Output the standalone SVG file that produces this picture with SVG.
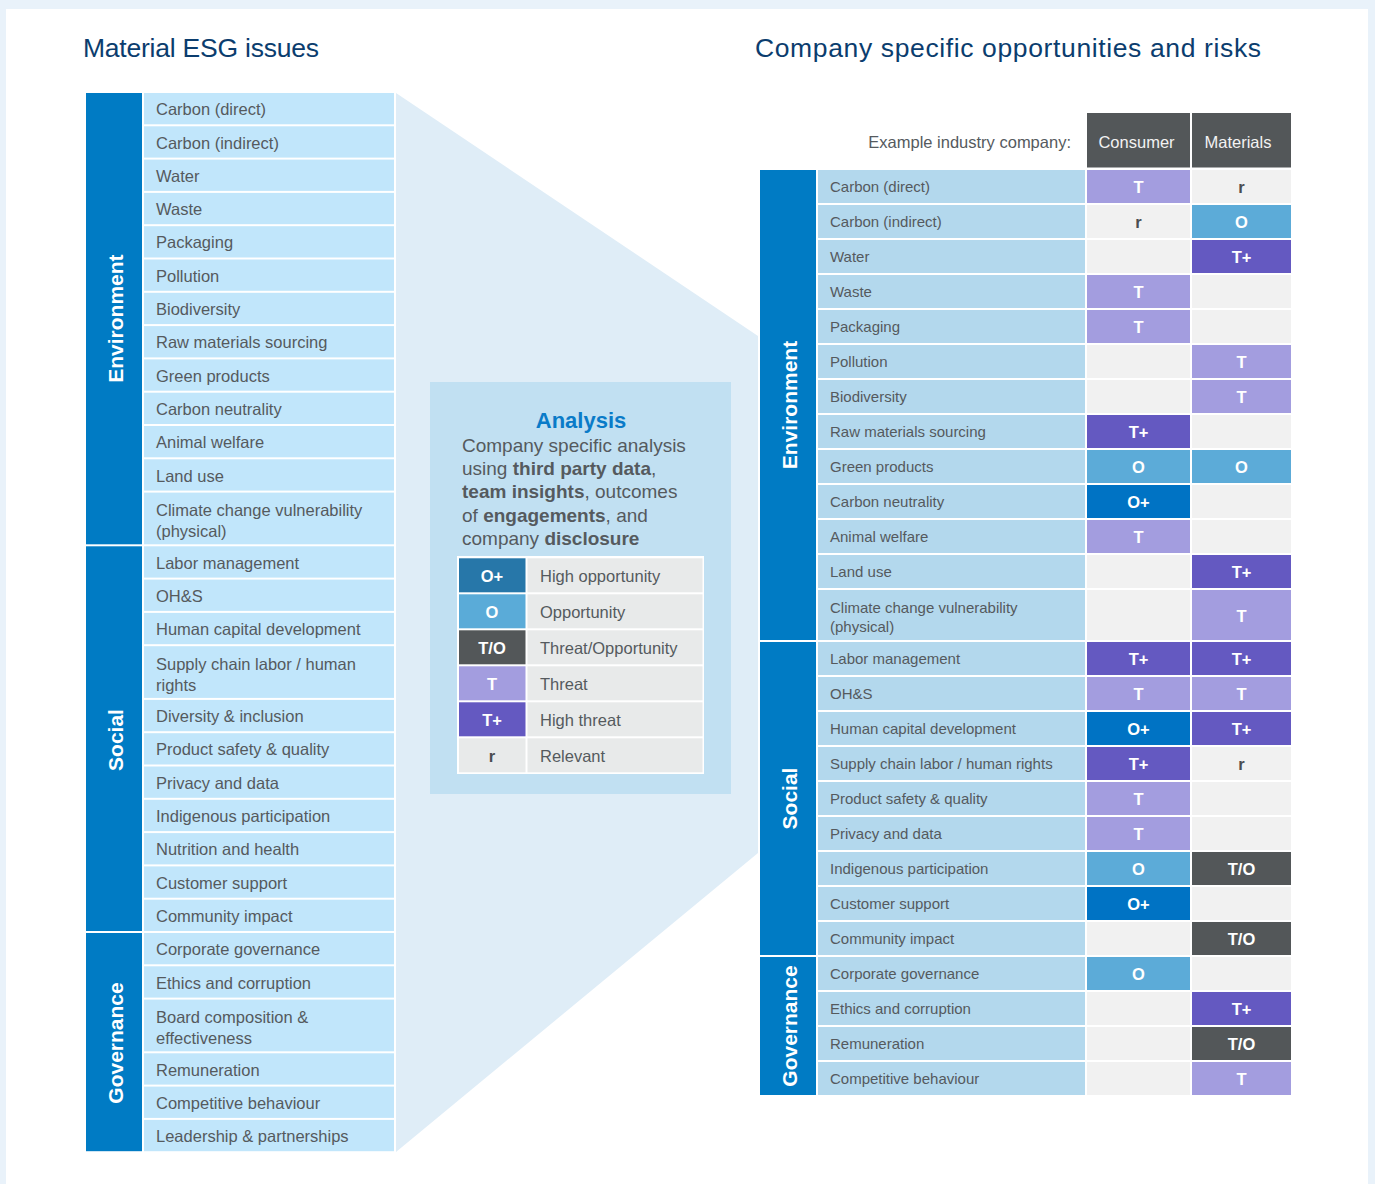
<svg xmlns="http://www.w3.org/2000/svg" width="1375" height="1184" viewBox="0 0 1375 1184">
<style>
text{font-family:"Liberation Sans",Arial,sans-serif}
.title{font-size:26.5px;fill:#0b3d6e}
.cat{fill:#007bc4}
.catl{font-weight:bold;font-size:21px;fill:#fff;text-anchor:middle}
.iL{fill:#c1e6fb}
.iR{fill:#b3d8ed}
.t{fill:#555a5e}
.l{font-size:16.5px}
.r{font-size:15px}
.e{fill:#f1f1f1}
.cT{fill:#a39ddf}.cTp{fill:#6459c1}.cO{fill:#5cabd8}.cOp{fill:#0073c4}.cTO{fill:#535759}
.code{font-weight:bold;font-size:16.5px;fill:#fff;text-anchor:middle}
.rr{font-weight:bold;font-size:16.5px;fill:#4a4d50;text-anchor:middle}
.hd{fill:#535759}
.hdt{font-size:16.5px;fill:#f2f2f2;text-anchor:middle}
.lg{fill:#e8eaea}
</style>
<rect width="1375" height="1184" fill="#e9f2fa"/>
<rect x="6" y="9" width="1362" height="1175" fill="#fff"/>

<g id="connectors">
<polygon points="396,93 758,336 758,853 396,1152" fill="#dfedf7"/>
</g>

<text class="title" x="83" y="57" textLength="236">Material ESG issues</text>
<text class="title" x="755" y="57" textLength="506">Company specific opportunities and risks</text>

<g id="left-table">
<g id="left-categories">
<rect class="cat" x="86" y="93" width="56" height="451.3"/>
<rect class="cat" x="86" y="546.3" width="56" height="384.7"/>
<rect class="cat" x="86" y="933" width="56" height="218.2"/>
<text class="catl" transform="translate(122.5,318.6) rotate(-90)">Environment</text>
<text class="catl" transform="translate(122.5,740) rotate(-90)">Social</text>
<text class="catl" transform="translate(122.5,1043) rotate(-90)">Governance</text>
</g>
<g id="left-items">
<rect class="iL" x="144" y="93" width="250" height="31.3"/><text class="t l" x="156" y="115.2">Carbon (direct)</text>
<rect class="iL" x="144" y="126.3" width="250" height="31.3"/><text class="t l" x="156" y="148.5">Carbon (indirect)</text>
<rect class="iL" x="144" y="159.6" width="250" height="31.3"/><text class="t l" x="156" y="181.8">Water</text>
<rect class="iL" x="144" y="192.9" width="250" height="31.3"/><text class="t l" x="156" y="215.1">Waste</text>
<rect class="iL" x="144" y="226.2" width="250" height="31.3"/><text class="t l" x="156" y="248.4">Packaging</text>
<rect class="iL" x="144" y="259.5" width="250" height="31.3"/><text class="t l" x="156" y="281.7">Pollution</text>
<rect class="iL" x="144" y="292.8" width="250" height="31.3"/><text class="t l" x="156" y="315">Biodiversity</text>
<rect class="iL" x="144" y="326.1" width="250" height="31.3"/><text class="t l" x="156" y="348.3">Raw materials sourcing</text>
<rect class="iL" x="144" y="359.4" width="250" height="31.3"/><text class="t l" x="156" y="381.6">Green products</text>
<rect class="iL" x="144" y="392.7" width="250" height="31.3"/><text class="t l" x="156" y="414.9">Carbon neutrality</text>
<rect class="iL" x="144" y="426" width="250" height="31.3"/><text class="t l" x="156" y="448.2">Animal welfare</text>
<rect class="iL" x="144" y="459.3" width="250" height="31.3"/><text class="t l" x="156" y="481.5">Land use</text>
<rect class="iL" x="144" y="492.6" width="250" height="51.7"/><text class="t l" x="156" y="516.2">Climate change vulnerability</text><text class="t l" x="156" y="537.2">(physical)</text>
<rect class="iL" x="144" y="546.3" width="250" height="31.3"/><text class="t l" x="156" y="568.5">Labor management</text>
<rect class="iL" x="144" y="579.6" width="250" height="31.3"/><text class="t l" x="156" y="601.8">OH&amp;S</text>
<rect class="iL" x="144" y="612.9" width="250" height="31.3"/><text class="t l" x="156" y="635.1">Human capital development</text>
<rect class="iL" x="144" y="646.2" width="250" height="51.7"/><text class="t l" x="156" y="669.8">Supply chain labor / human</text><text class="t l" x="156" y="690.8">rights</text>
<rect class="iL" x="144" y="699.9" width="250" height="31.3"/><text class="t l" x="156" y="722.1">Diversity &amp; inclusion</text>
<rect class="iL" x="144" y="733.2" width="250" height="31.3"/><text class="t l" x="156" y="755.4">Product safety &amp; quality</text>
<rect class="iL" x="144" y="766.5" width="250" height="31.3"/><text class="t l" x="156" y="788.7">Privacy and data</text>
<rect class="iL" x="144" y="799.8" width="250" height="31.3"/><text class="t l" x="156" y="822">Indigenous participation</text>
<rect class="iL" x="144" y="833.1" width="250" height="31.3"/><text class="t l" x="156" y="855.3">Nutrition and health</text>
<rect class="iL" x="144" y="866.4" width="250" height="31.3"/><text class="t l" x="156" y="888.6">Customer support</text>
<rect class="iL" x="144" y="899.7" width="250" height="31.3"/><text class="t l" x="156" y="921.9">Community impact</text>
<rect class="iL" x="144" y="933" width="250" height="31.3"/><text class="t l" x="156" y="955.2">Corporate governance</text>
<rect class="iL" x="144" y="966.3" width="250" height="31.3"/><text class="t l" x="156" y="988.5">Ethics and corruption</text>
<rect class="iL" x="144" y="999.6" width="250" height="51.7"/><text class="t l" x="156" y="1023.2">Board composition &amp;</text><text class="t l" x="156" y="1044.2">effectiveness</text>
<rect class="iL" x="144" y="1053.3" width="250" height="31.3"/><text class="t l" x="156" y="1075.5">Remuneration</text>
<rect class="iL" x="144" y="1086.6" width="250" height="31.3"/><text class="t l" x="156" y="1108.8">Competitive behaviour</text>
<rect class="iL" x="144" y="1119.9" width="250" height="31.3"/><text class="t l" x="156" y="1142.1">Leadership &amp; partnerships</text>
</g>
</g>

<g id="analysis">
<rect x="430" y="382" width="301" height="412" fill="#c1e0f2"/>
<text x="581" y="428" text-anchor="middle" font-weight="bold" font-size="22" fill="#0a7bc8">Analysis</text>
<g class="t" font-size="19">
<text x="462" y="451.7">Company specific analysis</text>
<text x="462" y="474.5">using <tspan font-weight="bold">third party data</tspan>,</text>
<text x="462" y="497.7"><tspan font-weight="bold">team insights</tspan>, outcomes</text>
<text x="462" y="521.5">of <tspan font-weight="bold">engagements</tspan>, and</text>
<text x="462" y="544.5">company <tspan font-weight="bold">disclosure</tspan></text>
</g>
</g>

<g id="legend">
<rect x="457" y="556" width="247" height="218" fill="#fff"/>
<rect x="459" y="558.3" width="66.5" height="34" fill="#2777a9"/><rect class="lg" x="527.5" y="558.3" width="175" height="34"/>
<text class="code" x="492" y="581.5">O+</text><text class="t l" x="540" y="581.5">High opportunity</text>
<rect x="459" y="594.3" width="66.5" height="34" fill="#5aabd8"/><rect class="lg" x="527.5" y="594.3" width="175" height="34"/>
<text class="code" x="492" y="617.5">O</text><text class="t l" x="540" y="617.5">Opportunity</text>
<rect x="459" y="630.3" width="66.5" height="34" fill="#535759"/><rect class="lg" x="527.5" y="630.3" width="175" height="34"/>
<text class="code" x="492" y="653.5">T/O</text><text class="t l" x="540" y="653.5">Threat/Opportunity</text>
<rect x="459" y="666.3" width="66.5" height="34" fill="#a39ddf"/><rect class="lg" x="527.5" y="666.3" width="175" height="34"/>
<text class="code" x="492" y="689.5">T</text><text class="t l" x="540" y="689.5">Threat</text>
<rect x="459" y="702.3" width="66.5" height="34" fill="#6459c1"/><rect class="lg" x="527.5" y="702.3" width="175" height="34"/>
<text class="code" x="492" y="725.5">T+</text><text class="t l" x="540" y="725.5">High threat</text>
<rect x="459" y="738.3" width="66.5" height="34" fill="#e8eaea"/><rect class="lg" x="527.5" y="738.3" width="175" height="34"/>
<text class="rr" x="492" y="761.5">r</text><text class="t l" x="540" y="761.5">Relevant</text>
</g>

<g id="right-header">
<text class="t" x="1071" y="148" font-size="16.5" text-anchor="end">Example industry company:</text>
<rect class="hd" x="1087" y="113" width="103" height="54.5"/>
<rect class="hd" x="1192" y="113" width="99" height="54.5"/>
<text class="hdt" x="1136.5" y="148">Consumer</text>
<text class="hdt" x="1238" y="148">Materials</text>
</g>

<g id="right-table">
<g id="right-categories">
<rect class="cat" x="760" y="170" width="56" height="470"/>
<rect class="cat" x="760" y="642" width="56" height="313"/>
<rect class="cat" x="760" y="957" width="56" height="138"/>
<text class="catl" transform="translate(796.5,405) rotate(-90)" font-size="20.5">Environment</text>
<text class="catl" transform="translate(796.5,798.5) rotate(-90)" font-size="20.5">Social</text>
<text class="catl" transform="translate(796.5,1026) rotate(-90)" font-size="20.5">Governance</text>
</g>
<g id="right-items">
<rect class="iR" x="818" y="170" width="267" height="33"/><text class="t r" x="830" y="192.2">Carbon (direct)</text>
<rect class="cT" x="1087" y="170" width="103" height="33"/><text class="code" x="1138.5" y="192.8">T</text>
<rect class="e" x="1192" y="170" width="99" height="33"/><text class="rr" x="1241.5" y="192.8">r</text>

<rect class="iR" x="818" y="205" width="267" height="33"/><text class="t r" x="830" y="227.2">Carbon (indirect)</text>
<rect class="e" x="1087" y="205" width="103" height="33"/><text class="rr" x="1138.5" y="227.8">r</text>
<rect class="cO" x="1192" y="205" width="99" height="33"/><text class="code" x="1241.5" y="227.8">O</text>

<rect class="iR" x="818" y="240" width="267" height="33"/><text class="t r" x="830" y="262.2">Water</text>
<rect class="e" x="1087" y="240" width="103" height="33"/>
<rect class="cTp" x="1192" y="240" width="99" height="33"/><text class="code" x="1241.5" y="262.8">T+</text>

<rect class="iR" x="818" y="275" width="267" height="33"/><text class="t r" x="830" y="297.2">Waste</text>
<rect class="cT" x="1087" y="275" width="103" height="33"/><text class="code" x="1138.5" y="297.8">T</text>
<rect class="e" x="1192" y="275" width="99" height="33"/>

<rect class="iR" x="818" y="310" width="267" height="33"/><text class="t r" x="830" y="332.2">Packaging</text>
<rect class="cT" x="1087" y="310" width="103" height="33"/><text class="code" x="1138.5" y="332.8">T</text>
<rect class="e" x="1192" y="310" width="99" height="33"/>

<rect class="iR" x="818" y="345" width="267" height="33"/><text class="t r" x="830" y="367.2">Pollution</text>
<rect class="e" x="1087" y="345" width="103" height="33"/>
<rect class="cT" x="1192" y="345" width="99" height="33"/><text class="code" x="1241.5" y="367.8">T</text>

<rect class="iR" x="818" y="380" width="267" height="33"/><text class="t r" x="830" y="402.2">Biodiversity</text>
<rect class="e" x="1087" y="380" width="103" height="33"/>
<rect class="cT" x="1192" y="380" width="99" height="33"/><text class="code" x="1241.5" y="402.8">T</text>

<rect class="iR" x="818" y="415" width="267" height="33"/><text class="t r" x="830" y="437.2">Raw materials sourcing</text>
<rect class="cTp" x="1087" y="415" width="103" height="33"/><text class="code" x="1138.5" y="437.8">T+</text>
<rect class="e" x="1192" y="415" width="99" height="33"/>

<rect class="iR" x="818" y="450" width="267" height="33"/><text class="t r" x="830" y="472.2">Green products</text>
<rect class="cO" x="1087" y="450" width="103" height="33"/><text class="code" x="1138.5" y="472.8">O</text>
<rect class="cO" x="1192" y="450" width="99" height="33"/><text class="code" x="1241.5" y="472.8">O</text>

<rect class="iR" x="818" y="485" width="267" height="33"/><text class="t r" x="830" y="507.2">Carbon neutrality</text>
<rect class="cOp" x="1087" y="485" width="103" height="33"/><text class="code" x="1138.5" y="507.8">O+</text>
<rect class="e" x="1192" y="485" width="99" height="33"/>

<rect class="iR" x="818" y="520" width="267" height="33"/><text class="t r" x="830" y="542.2">Animal welfare</text>
<rect class="cT" x="1087" y="520" width="103" height="33"/><text class="code" x="1138.5" y="542.8">T</text>
<rect class="e" x="1192" y="520" width="99" height="33"/>

<rect class="iR" x="818" y="555" width="267" height="33"/><text class="t r" x="830" y="577.2">Land use</text>
<rect class="e" x="1087" y="555" width="103" height="33"/>
<rect class="cTp" x="1192" y="555" width="99" height="33"/><text class="code" x="1241.5" y="577.8">T+</text>

<rect class="iR" x="818" y="590" width="267" height="50"/><text class="t r" x="830" y="612.5">Climate change vulnerability</text><text class="t r" x="830" y="631.5">(physical)</text>
<rect class="e" x="1087" y="590" width="103" height="50"/>
<rect class="cT" x="1192" y="590" width="99" height="50"/><text class="code" x="1241.5" y="621.5">T</text>

<rect class="iR" x="818" y="642" width="267" height="33"/><text class="t r" x="830" y="664.2">Labor management</text>
<rect class="cTp" x="1087" y="642" width="103" height="33"/><text class="code" x="1138.5" y="664.8">T+</text>
<rect class="cTp" x="1192" y="642" width="99" height="33"/><text class="code" x="1241.5" y="664.8">T+</text>

<rect class="iR" x="818" y="677" width="267" height="33"/><text class="t r" x="830" y="699.2">OH&amp;S</text>
<rect class="cT" x="1087" y="677" width="103" height="33"/><text class="code" x="1138.5" y="699.8">T</text>
<rect class="cT" x="1192" y="677" width="99" height="33"/><text class="code" x="1241.5" y="699.8">T</text>

<rect class="iR" x="818" y="712" width="267" height="33"/><text class="t r" x="830" y="734.2">Human capital development</text>
<rect class="cOp" x="1087" y="712" width="103" height="33"/><text class="code" x="1138.5" y="734.8">O+</text>
<rect class="cTp" x="1192" y="712" width="99" height="33"/><text class="code" x="1241.5" y="734.8">T+</text>

<rect class="iR" x="818" y="747" width="267" height="33"/><text class="t r" x="830" y="769.2">Supply chain labor / human rights</text>
<rect class="cTp" x="1087" y="747" width="103" height="33"/><text class="code" x="1138.5" y="769.8">T+</text>
<rect class="e" x="1192" y="747" width="99" height="33"/><text class="rr" x="1241.5" y="769.8">r</text>

<rect class="iR" x="818" y="782" width="267" height="33"/><text class="t r" x="830" y="804.2">Product safety &amp; quality</text>
<rect class="cT" x="1087" y="782" width="103" height="33"/><text class="code" x="1138.5" y="804.8">T</text>
<rect class="e" x="1192" y="782" width="99" height="33"/>

<rect class="iR" x="818" y="817" width="267" height="33"/><text class="t r" x="830" y="839.2">Privacy and data</text>
<rect class="cT" x="1087" y="817" width="103" height="33"/><text class="code" x="1138.5" y="839.8">T</text>
<rect class="e" x="1192" y="817" width="99" height="33"/>

<rect class="iR" x="818" y="852" width="267" height="33"/><text class="t r" x="830" y="874.2">Indigenous participation</text>
<rect class="cO" x="1087" y="852" width="103" height="33"/><text class="code" x="1138.5" y="874.8">O</text>
<rect class="cTO" x="1192" y="852" width="99" height="33"/><text class="code" x="1241.5" y="874.8">T/O</text>

<rect class="iR" x="818" y="887" width="267" height="33"/><text class="t r" x="830" y="909.2">Customer support</text>
<rect class="cOp" x="1087" y="887" width="103" height="33"/><text class="code" x="1138.5" y="909.8">O+</text>
<rect class="e" x="1192" y="887" width="99" height="33"/>

<rect class="iR" x="818" y="922" width="267" height="33"/><text class="t r" x="830" y="944.2">Community impact</text>
<rect class="e" x="1087" y="922" width="103" height="33"/>
<rect class="cTO" x="1192" y="922" width="99" height="33"/><text class="code" x="1241.5" y="944.8">T/O</text>

<rect class="iR" x="818" y="957" width="267" height="33"/><text class="t r" x="830" y="979.2">Corporate governance</text>
<rect class="cO" x="1087" y="957" width="103" height="33"/><text class="code" x="1138.5" y="979.8">O</text>
<rect class="e" x="1192" y="957" width="99" height="33"/>

<rect class="iR" x="818" y="992" width="267" height="33"/><text class="t r" x="830" y="1014.2">Ethics and corruption</text>
<rect class="e" x="1087" y="992" width="103" height="33"/>
<rect class="cTp" x="1192" y="992" width="99" height="33"/><text class="code" x="1241.5" y="1014.8">T+</text>

<rect class="iR" x="818" y="1027" width="267" height="33"/><text class="t r" x="830" y="1049.2">Remuneration</text>
<rect class="e" x="1087" y="1027" width="103" height="33"/>
<rect class="cTO" x="1192" y="1027" width="99" height="33"/><text class="code" x="1241.5" y="1049.8">T/O</text>

<rect class="iR" x="818" y="1062" width="267" height="33"/><text class="t r" x="830" y="1084.2">Competitive behaviour</text>
<rect class="e" x="1087" y="1062" width="103" height="33"/>
<rect class="cT" x="1192" y="1062" width="99" height="33"/><text class="code" x="1241.5" y="1084.8">T</text>
</g>
</g>
</svg>
